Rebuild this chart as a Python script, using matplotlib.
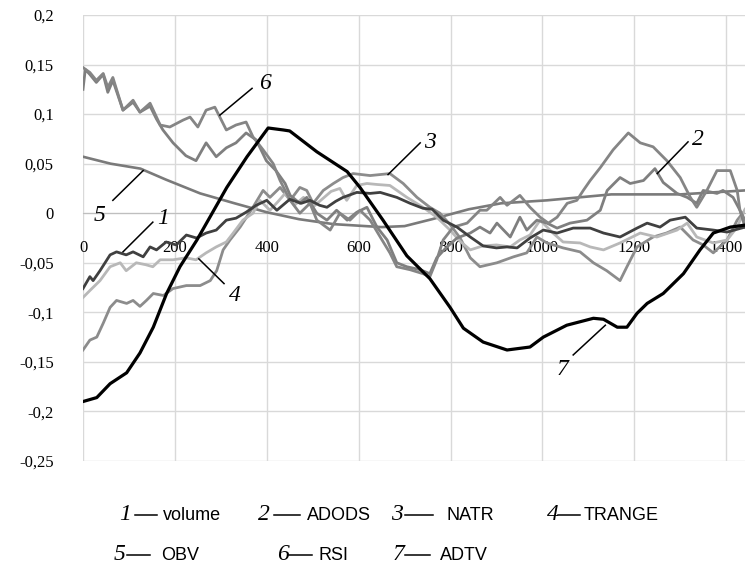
import matplotlib
matplotlib.use("Agg")
import matplotlib.pyplot as plt
from matplotlib.lines import Line2D
from matplotlib.ticker import FuncFormatter

# --- indicator curves (x = sample index, y = value) ---
volume_x = [0, 15, 22, 37, 59, 73, 94, 109, 131, 146, 160, 181, 203, 225, 247, 268, 290, 312, 333,
            355, 377, 400, 422, 450, 475, 494, 515, 531, 550, 566, 596, 625, 647, 683, 712, 740, 760,
            784, 814, 843, 871, 900, 923, 945, 973, 1002, 1032, 1067, 1104, 1133, 1169, 1206, 1228,
            1256, 1278, 1311, 1336, 1372, 1402, 1441]
volume_y = [-0.076, -0.064, -0.068, -0.058, -0.042, -0.039, -0.042, -0.039, -0.044, -0.034, -0.037,
            -0.029, -0.032, -0.022, -0.025, -0.020, -0.017, -0.007, -0.005, 0.001, 0.008, 0.013,
            0.003, 0.014, 0.010, 0.013, 0.008, 0.006, 0.012, 0.016, 0.021, 0.020, 0.021, 0.016,
            0.010, 0.005, 0.004, -0.007, -0.014, -0.024, -0.033, -0.035, -0.034, -0.035, -0.025,
            -0.017, -0.020, -0.015, -0.015, -0.020, -0.024, -0.015, -0.010, -0.014, -0.007, -0.004,
            -0.015, -0.017, -0.019, -0.014]

adods_x = [0, 5, 15, 29, 44, 54, 65, 87, 109, 124, 146, 160, 174, 196, 224, 246, 268, 290, 312, 333,
           355, 377, 399, 420, 440, 451, 472, 487, 509, 531, 552, 575, 596, 618, 640, 662, 683, 705,
           734, 755, 770, 790, 814, 843, 864, 886, 901, 930, 951, 966, 988, 1010, 1032, 1060, 1097,
           1126, 1141, 1169, 1191, 1220, 1245, 1263, 1293, 1315, 1336, 1350, 1380, 1393, 1415,
           1430, 1441]
adods_y = [0.125, 0.145, 0.140, 0.132, 0.140, 0.122, 0.134, 0.104, 0.112, 0.102, 0.108, 0.095,
           0.084, 0.071, 0.058, 0.053, 0.071, 0.057, 0.066, 0.071, 0.081, 0.074, 0.053, 0.043,
           0.030, 0.018, 0.010, 0.016, 0.000, -0.007, 0.003, -0.007, 0.001, 0.006, -0.014, -0.027,
           -0.050, -0.054, -0.057, -0.061, -0.045, -0.035, -0.025, -0.020, -0.014, -0.020, -0.010,
           -0.024, -0.004, -0.017, -0.007, -0.010, -0.015, -0.010, -0.007, 0.003, 0.023, 0.036,
           0.030, 0.033, 0.045, 0.031, 0.020, 0.016, 0.010, 0.023, 0.020, 0.023, 0.016, 0.003,
           -0.014]

natr_x = [0, 15, 30, 44, 59, 73, 95, 109, 124, 138, 153, 175, 196, 225, 255, 277, 291, 305, 320,
          342, 370, 392, 407, 429, 451, 472, 487, 501, 523, 545, 566, 588, 625, 668, 697, 727, 755,
          777, 800, 821, 843, 864, 901, 937, 966, 988, 1010, 1045, 1082, 1111, 1140, 1169, 1184,
          1206, 1241, 1270, 1300, 1328, 1350, 1372, 1402, 1424, 1441]
natr_y = [-0.138, -0.128, -0.125, -0.111, -0.095, -0.088, -0.091, -0.088, -0.094, -0.088, -0.081,
          -0.083, -0.076, -0.073, -0.073, -0.068, -0.058, -0.037, -0.027, -0.014, 0.006, 0.023,
          0.016, 0.026, 0.013, 0.026, 0.023, 0.010, 0.023, 0.030, 0.036, 0.040, 0.038, 0.040,
          0.030, 0.016, 0.006, 0.000, -0.012, -0.025, -0.045, -0.054, -0.050, -0.044, -0.040,
          -0.024, -0.030, -0.035, -0.039, -0.050, -0.058, -0.068, -0.054, -0.034, -0.024, -0.020,
          -0.014, -0.027, -0.032, -0.040, -0.027, -0.007, 0.003]

trange_x = [0, 15, 37, 59, 81, 94, 116, 137, 152, 168, 196, 224, 246, 268, 290, 312, 327, 348, 370,
            385, 407, 425, 440, 460, 480, 500, 520, 540, 559, 574, 596, 618, 640, 668, 705, 740, 770,
            799, 820, 843, 870, 900, 930, 951, 973, 995, 1023, 1045, 1082, 1104, 1133, 1169, 1213,
            1249, 1293, 1315, 1336, 1372, 1402, 1424, 1441]
trange_y = [-0.085, -0.078, -0.068, -0.054, -0.050, -0.058, -0.050, -0.052, -0.054, -0.047, -0.047,
            -0.045, -0.047, -0.040, -0.034, -0.029, -0.020, -0.007, 0.000, 0.013, 0.003, 0.012,
            0.020, 0.008, 0.016, 0.006, 0.014, 0.022, 0.025, 0.013, 0.028, 0.030, 0.029, 0.028,
            0.016, 0.006, -0.004, -0.017, -0.028, -0.037, -0.033, -0.032, -0.034, -0.027, -0.022,
            -0.007, -0.020, -0.029, -0.030, -0.034, -0.037, -0.030, -0.020, -0.024, -0.017, -0.010,
            -0.024, -0.030, -0.027, -0.014, 0.004]

obv_x = [0, 60, 125, 180, 255, 330, 400, 470, 545, 650, 700, 760, 840, 910, 1010, 1150, 1300, 1441]
obv_y = [0.057, 0.050, 0.045, 0.034, 0.020, 0.010, 0.001, -0.006, -0.011, -0.014, -0.013, -0.006,
         0.004, 0.010, 0.013, 0.019, 0.019, 0.023]

rsi_x = [0, 15, 29, 44, 54, 65, 87, 109, 124, 146, 168, 189, 218, 233, 250, 268, 287, 312, 333, 355,
         370, 392, 414, 429, 451, 472, 494, 509, 538, 559, 581, 603, 625, 647, 668, 683, 712, 740,
         755, 770, 784, 806, 836, 864, 879, 908, 923, 951, 973, 995, 1013, 1032, 1054, 1075, 1089,
         1104, 1126, 1154, 1187, 1213, 1241, 1271, 1300, 1322, 1336, 1358, 1380, 1409, 1424, 1430,
         1441]
rsi_y = [0.147, 0.142, 0.134, 0.141, 0.127, 0.137, 0.104, 0.114, 0.102, 0.111, 0.089, 0.087, 0.094,
         0.097, 0.087, 0.104, 0.107, 0.084, 0.089, 0.092, 0.077, 0.064, 0.050, 0.033, 0.013, 0.000,
         0.010, -0.007, -0.017, 0.000, -0.007, 0.003, -0.007, -0.024, -0.040, -0.054, -0.057,
         -0.061, -0.064, -0.047, -0.027, -0.014, -0.010, 0.003, 0.003, 0.016, 0.008, 0.018, 0.006,
         -0.004, -0.010, -0.004, 0.010, 0.013, 0.023, 0.033, 0.046, 0.064, 0.081, 0.071, 0.067,
         0.053, 0.036, 0.016, 0.006, 0.023, 0.043, 0.043, 0.023, 0.003, -0.007]

adtv_x = [0, 30, 59, 95, 124, 153, 182, 211, 248, 313, 357, 403, 436, 450, 509, 575, 603, 653, 705,
          755, 799, 828, 871, 923, 973, 1002, 1053, 1111, 1133, 1163, 1184, 1206, 1228, 1263, 1307,
          1343, 1372, 1409, 1441]
adtv_y = [-0.190, -0.186, -0.172, -0.161, -0.141, -0.115, -0.081, -0.054, -0.027, 0.026, 0.057,
          0.086, 0.084, 0.083, 0.062, 0.042, 0.026, -0.007, -0.043, -0.066, -0.095, -0.116, -0.130,
          -0.138, -0.135, -0.125, -0.113, -0.106, -0.107, -0.115, -0.115, -0.101, -0.091, -0.081,
          -0.061, -0.037, -0.020, -0.014, -0.012]

x_ticks = [0, 200, 400, 600, 800, 1000, 1200, 1400]
y_ticks = [-0.25, -0.2, -0.15, -0.1, -0.05, 0, 0.05, 0.1, 0.15, 0.2]

legend_rows = [
    [("1", "volume"), ("2", "ADODS"), ("3", "NATR"), ("4", "TRANGE")],
    [("5", "OBV"), ("6", "RSI"), ("7", "ADTV")],
]

W, H = 752, 571
fig = plt.figure(figsize=(W / 100, H / 100), dpi=100)
ax = fig.add_axes([83 / W, 1 - 461 / H, 662 / W, 446 / H])

serif = ["Liberation Serif", "DejaVu Serif"]
sans = ["Liberation Sans", "DejaVu Sans"]

ax.plot(obv_x, obv_y, color="#7a7a7a", lw=1.9, zorder=3)
ax.plot(natr_x, natr_y, color="#8c8c8c", lw=2.0, zorder=3)
ax.plot(trange_x, trange_y, color="#b8b8b8", lw=2.0, zorder=3)
ax.plot(adods_x, adods_y, color="#7f7f7f", lw=2.0, zorder=3)
ax.plot(rsi_x, rsi_y, color="#858585", lw=2.0, zorder=3)
ax.plot(volume_x, volume_y, color="#404040", lw=2.0, zorder=4)
ax.plot(adtv_x, adtv_y, color="black", lw=2.3, zorder=5)

ax.set_xlim(0, 1441)
ax.set_ylim(-0.25, 0.2)
ax.set_xticks(x_ticks)
ax.set_yticks(y_ticks)
ax.grid(True, color="#d9d9d9", lw=1.0, zorder=0)
ax.set_axisbelow(True)
for s in ["top", "right", "left"]:
    ax.spines[s].set_visible(False)
ax.spines["bottom"].set_position(("data", 0))
ax.spines["bottom"].set_color("#bfbfbf")
ax.tick_params(length=0)
ax.tick_params(axis="y", pad=21)
ax.tick_params(axis="x", pad=19)
ax.yaxis.set_major_formatter(FuncFormatter(lambda v, p: ("%g" % round(v, 2)).replace(".", ",")))
for lab in ax.get_xticklabels() + ax.get_yticklabels():
    lab.set_fontfamily(serif)
    lab.set_fontsize(12)

# numbered callouts with leader lines
callouts = [
    ("6", (298, 0.099), (368, 0.126), (396, 0.131)),
    ("5", (65, 0.013), (131, 0.043), (37, -0.002)),
    ("1", (87, -0.039), (152, -0.009), (174, -0.005)),
    ("4", (252, -0.046), (307, -0.071), (331, -0.083)),
    ("3", (664, 0.039), (734, 0.071), (756, 0.071)),
    ("2", (1250, 0.040), (1317, 0.072), (1339, 0.074)),
    ("7", (1137, -0.113), (1067, -0.143), (1043, -0.158)),
]
for num, p0, p1, pt in callouts:
    ax.plot([p0[0], p1[0]], [p0[1], p1[1]], color="black", lw=1.1, zorder=6)
    ax.text(pt[0], pt[1], num, fontsize=17, fontstyle="italic", family=serif,
            ha="center", va="center", zorder=6)

# legend below the chart: number x, dash from/to, label x (pixels)
row_pos = [(515, [(119, 135, 157, 163), (258, 274, 300, 307),
                  (391, 405, 433, 447), (547, 558, 580, 584)]),
           (555, [(114, 127, 150, 161), (277, 289, 312, 318), (393, 405, 430, 440)])]
for (y, spots), row in zip(row_pos, legend_rows):
    yf = 1 - y / H
    for (xn, d0, d1, xt), (num, name) in zip(spots, row):
        fig.text(xn / W, yf, num, fontsize=17, fontstyle="italic", family=serif,
                 ha="left", va="center")
        fig.add_artist(Line2D([d0 / W, d1 / W], [yf, yf], color="black", lw=1.1,
                              transform=fig.transFigure))
        fig.text(xt / W, yf, name, fontsize=13, family=sans, ha="left", va="center")

fig.savefig("out.png", dpi=100)
